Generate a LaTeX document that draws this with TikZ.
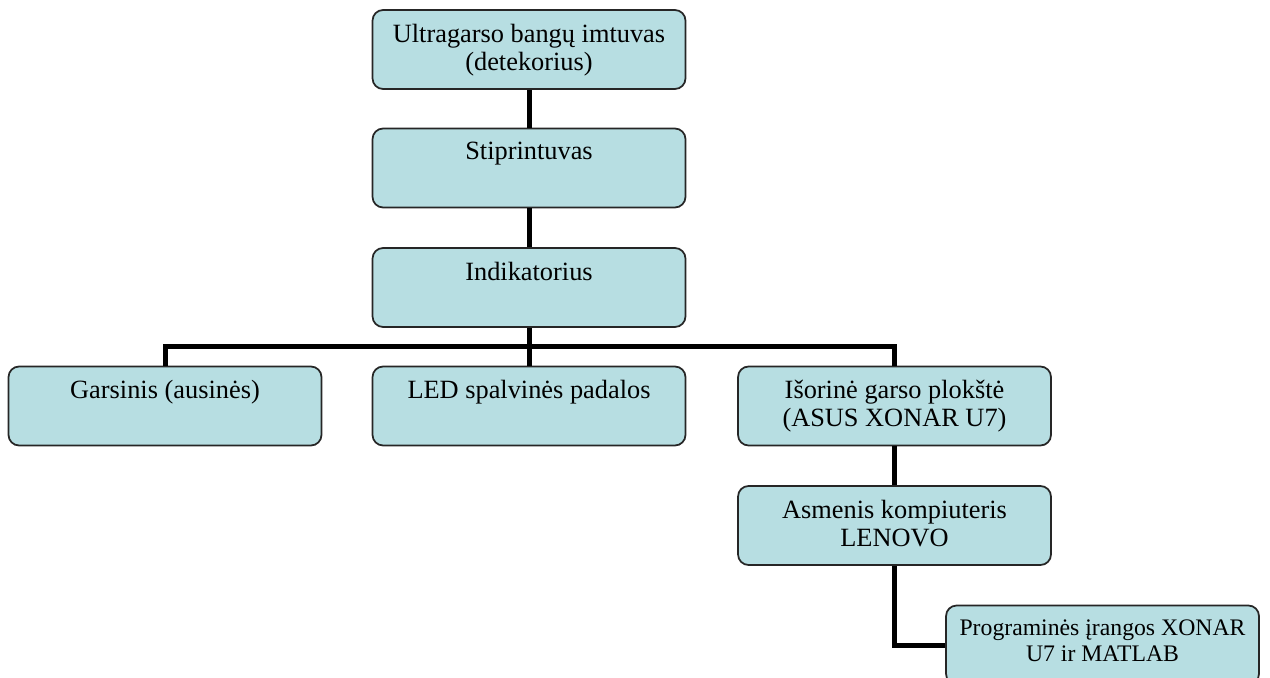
\documentclass[tikz,border=0pt]{standalone}
\usepackage{fontspec}
\setmainfont{Liberation Serif}
\usepackage{tikz}
\usetikzlibrary{positioning,calc}
\usepackage{xcolor}
\definecolor{blokcol}{RGB}{183,222,226}
\definecolor{linecol}{RGB}{0,0,0}
% text kept at the top of a block
\newcommand{\bloktext}[2][1.02cm]{\parbox[t][#1][t]{6cm}{\centering #2}}
\tikzset{
  % rounded block
  blok/.style={rectangle, rounded corners=6pt, draw=black!85, line width=1pt, fill=blokcol,
               minimum width=6.26cm, minimum height=1.58cm, inner xsep=0pt, inner ysep=0.28cm,
               font=\fontsize{15}{16}\selectfont},
  % small text block
  sblok/.style={blok, font=\fontsize{13.5}{15}\selectfont},
  % thick connector
  jung/.style={line width=0.1cm, linecol},
}
\begin{document}
\begin{tikzpicture}[x=0.02cm, y=-0.02cm]
  \useasboundingbox (0,0) rectangle (1270,677);
  % main chain
  \node[blok] (ultra) at (529,49.5) {\bloktext{Ultragarso bangų imtuvas\\(detekorius)}};
  \node[blok] (stipr) at (529,168) {\bloktext{Stiprintuvas}};
  \node[blok] (indik) at (529,287.5) {\bloktext{Indikatorius}};
  % branches
  \node[blok] (gars) at (165,406) {\bloktext{Garsinis (ausinės)}};
  \node[blok] (led) at (529,406) {\bloktext{LED spalvinės padalos}};
  \node[blok] (isor) at (894.5,406) {\bloktext{Išorinė garso plokštė\\(ASUS XONAR U7)}};
  \node[blok] (asm) at (894.5,525.5) {\bloktext{Asmenis kompiuteris\\LENOVO}};
  \node[sblok] (prog) at (1102.5,645) {\bloktext{Programinės įrangos XONAR\\U7 ir MATLAB}};
  % connectors
  \coordinate (bus) at ($(indik.south)!0.5!(led.north)$);
  \draw[jung] (ultra.south) -- (stipr.north);
  \draw[jung] (stipr.south) -- (indik.north);
  \draw[jung] (indik.south) -- (led.north);
  \draw[jung] (gars.north) |- (bus) -| (isor.north);
  \draw[jung] (isor.south) -- (asm.north);
  \draw[jung] (asm.south) |- (prog.west);
\end{tikzpicture}
\end{document}
